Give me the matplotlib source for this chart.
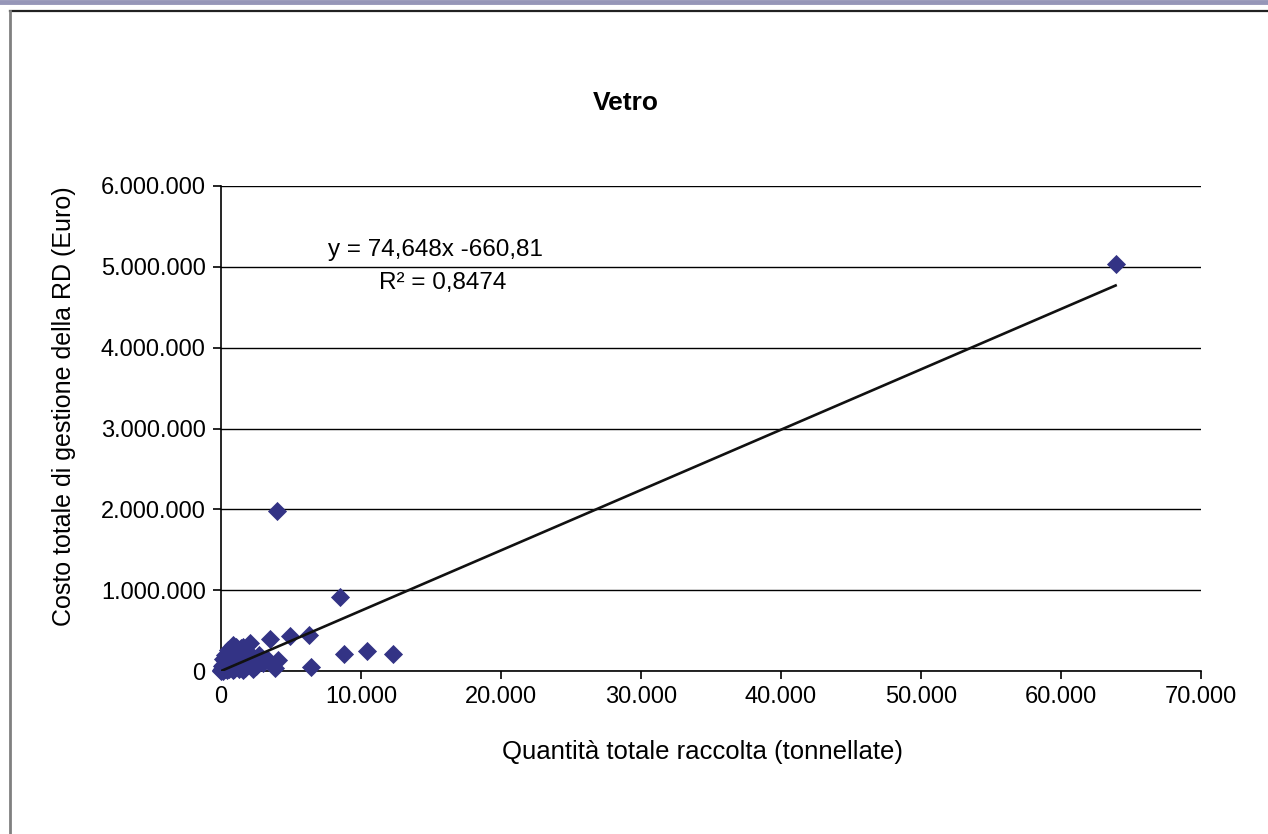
import matplotlib
matplotlib.use("Agg")
import matplotlib.pyplot as plt
from matplotlib.lines import Line2D
from matplotlib.ticker import FuncFormatter
import numpy as np

plt.rcParams['font.family'] = ['Liberation Sans', 'DejaVu Sans']

# --- dati (tonnellate, euro) ---
quantita = [
    63900, 4000, 8500, 6300, 4950, 3500, 2100, 880, 8800, 10400, 12300,
    6400, 4100, 3850, 3000, 2300, 2800, 3300,
    50, 100, 150, 200, 250, 300, 350, 400, 450, 500, 550, 600, 650, 700,
    750, 800, 850, 900, 950, 1000, 1100, 1200, 1250, 1300, 1400, 1500,
    1600, 1700, 1800, 1900, 2000, 2200, 2400, 2500, 2700, 1400, 700, 1600,
    2300, 150, 300, 80, 30, 500, 1050, 1550, 250, 120, 60, 20, 420, 900,
]
costo = [
    5030000, 1980000, 915000, 445000, 430000, 390000, 345000, 320000, 205000, 250000, 205000,
    55000, 136000, 40000, 100000, 173000, 120000, 150000,
    10000, 30000, 5000, 50000, 20000, 80000, 40000, 15000, 100000, 60000, 25000, 120000, 90000, 45000,
    150000, 70000, 10000, 180000, 110000, 55000, 200000, 130000, 30000, 260000, 90000, 160000,
    230000, 40000, 120000, 70000, 190000, 100000, 150000, 60000, 200000, 280000, 240000, 15000,
    30000, 150000, 200000, 60000, 3000, 260000, 300000, 300000, 120000, 70000, 20000, 8000, 180000, 25000,
]

# retta di tendenza (da Excel)
PENDENZA = 74.648
INTERCETTA = -660.81
R2 = 0.8474

X_TICKS = [0, 10000, 20000, 30000, 40000, 50000, 60000, 70000]
Y_TICKS = [0, 1000000, 2000000, 3000000, 4000000, 5000000, 6000000]


def punto_migliaia(v, pos=None):
    return f"{v:,.0f}".replace(",", ".")


fig = plt.figure(figsize=(12.68, 8.34), dpi=100)
ax = fig.add_axes([221 / 1268, 1 - 671 / 834, 980 / 1268, 485 / 834])

# cornice della diapositiva
fig.add_artist(Line2D([0, 1], [1 - 2 / 834, 1 - 2 / 834], color="#9696b8", lw=3.5,
                      transform=fig.transFigure))
fig.add_artist(Line2D([10 / 1268, 1], [1 - 11 / 834, 1 - 11 / 834], color="#222222", lw=1.6,
                      transform=fig.transFigure))
fig.add_artist(Line2D([10 / 1268, 10 / 1268], [0, 1 - 11 / 834], color="#808080", lw=2.0,
                      transform=fig.transFigure))

ax.scatter(quantita, costo, marker="D", s=95, color="#333385", zorder=3, clip_on=False,
           linewidths=0)

xr = np.array([min(quantita), max(quantita)])
ax.plot(xr, PENDENZA * xr + INTERCETTA, color="#111111", lw=1.9, zorder=4)

ax.set_xlim(0, 70000)
ax.set_ylim(0, 6000000)
ax.set_xticks(X_TICKS)
ax.set_yticks(Y_TICKS)
ax.xaxis.set_major_formatter(FuncFormatter(punto_migliaia))
ax.yaxis.set_major_formatter(FuncFormatter(punto_migliaia))
ax.tick_params(axis="both", direction="out", length=6, width=1.2, labelsize=17, pad=5)
ax.grid(axis="y", color="black", lw=1.0)
ax.set_axisbelow(True)
for s in ["top", "right"]:
    ax.spines[s].set_visible(False)
for s in ["left", "bottom"]:
    ax.spines[s].set_linewidth(1.2)

ax.set_xlabel("Quantità totale raccolta (tonnellate)", fontsize=18.5, va="center")
ax.set_ylabel("Costo totale di gestione della RD (Euro)", fontsize=18, va="center")
ax.xaxis.set_label_coords(0.491, -0.167)
ax.yaxis.set_label_coords(-0.160, 0.546)

eq = f"y = {PENDENZA:.3f}x {INTERCETTA:.2f}".replace(".", ",")
ax.text(15300, 5210000, eq, fontsize=17.5, ha="center", va="center")
ax.text(15800, 4800000, f"R² = {R2:.4f}".replace(".", ","), fontsize=17.5, ha="center", va="center")

fig.text(626 / 1268, 1 - 103 / 834, "Vetro", fontsize=19, fontweight="bold",
         ha="center", va="center")

fig.savefig("out.png", dpi=100)
